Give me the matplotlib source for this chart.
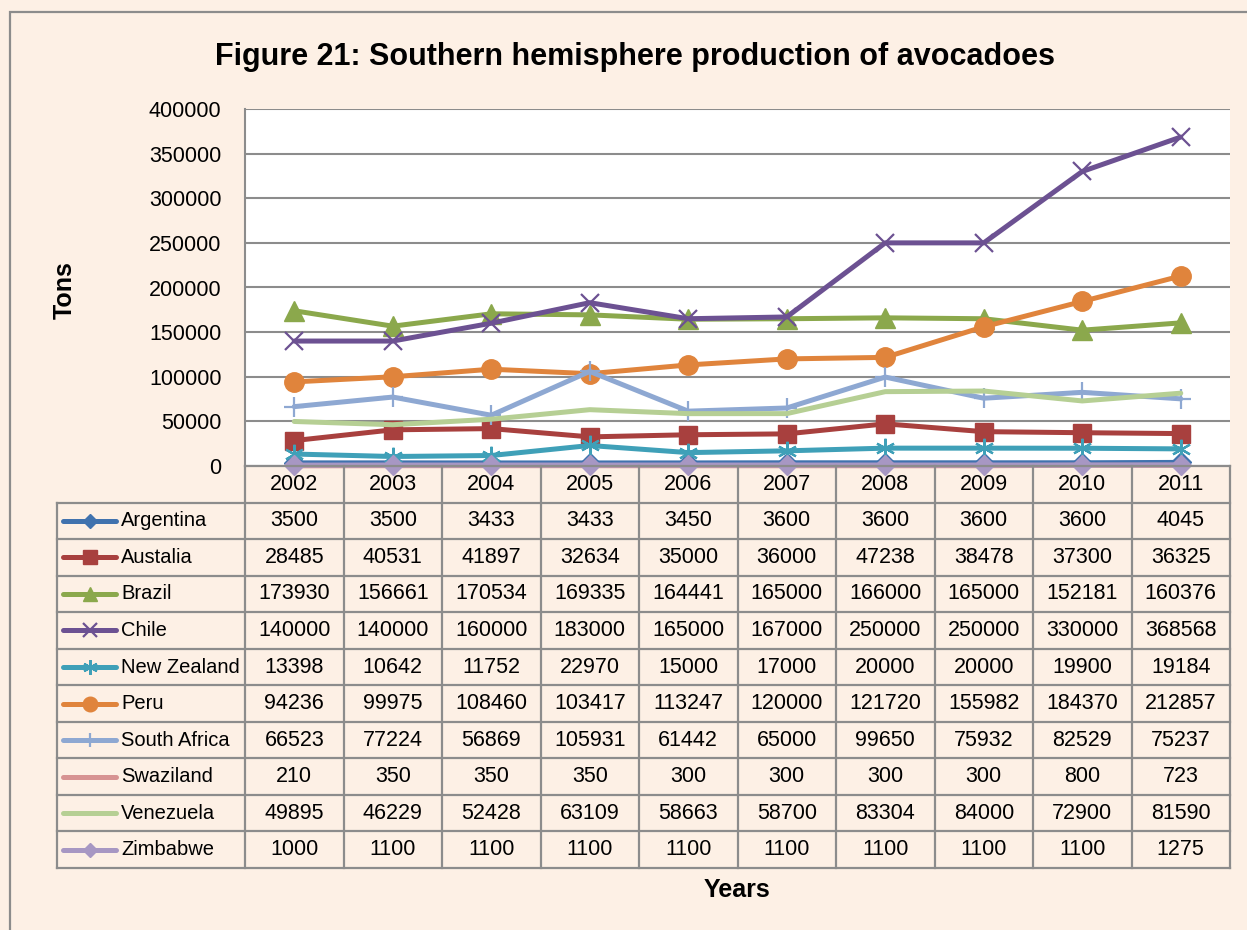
import numpy as np
import matplotlib.pyplot as plt
from matplotlib.lines import Line2D
from matplotlib.patches import Rectangle

years = ['2002', '2003', '2004', '2005', '2006', '2007', '2008', '2009', '2010', '2011']
countries = ['Argentina', 'Austalia', 'Brazil', 'Chile', 'New Zealand', 'Peru',
             'South Africa', 'Swaziland', 'Venezuela', 'Zimbabwe']
argentina = [3500, 3500, 3433, 3433, 3450, 3600, 3600, 3600, 3600, 4045]
australia = [28485, 40531, 41897, 32634, 35000, 36000, 47238, 38478, 37300, 36325]
brazil = [173930, 156661, 170534, 169335, 164441, 165000, 166000, 165000, 152181, 160376]
chile = [140000, 140000, 160000, 183000, 165000, 167000, 250000, 250000, 330000, 368568]
new_zealand = [13398, 10642, 11752, 22970, 15000, 17000, 20000, 20000, 19900, 19184]
peru = [94236, 99975, 108460, 103417, 113247, 120000, 121720, 155982, 184370, 212857]
south_africa = [66523, 77224, 56869, 105931, 61442, 65000, 99650, 75932, 82529, 75237]
swaziland = [210, 350, 350, 350, 300, 300, 300, 300, 800, 723]
venezuela = [49895, 46229, 52428, 63109, 58663, 58700, 83304, 84000, 72900, 81590]
zimbabwe = [1000, 1100, 1100, 1100, 1100, 1100, 1100, 1100, 1100, 1275]

series = [argentina, australia, brazil, chile, new_zealand, peru,
          south_africa, swaziland, venezuela, zimbabwe]

# style per series: colour, marker, size, edge width
styles = [
    ('#4072AE', 'D', 10, 1),
    ('#A8403E', 's', 13, 1),
    ('#8BA84C', '^', 14, 1),
    ('#6C5192', 'x', 13, 1.6),
    ('#3FA0B8', (6, 2, 0), 14, 1.6),
    ('#E0843C', 'o', 14, 1),
    ('#8EA8D2', '+', 14, 1.6),
    ('#D79392', None, 0, 1),
    ('#B6CF94', None, 0, 1),
    ('#A797C3', 'D', 10, 1),
]

plt.rcParams['font.family'] = ['Liberation Sans', 'DejaVu Sans']

W, H = 1247, 930
bg = '#FDF0E5'
grid_c = '#8C8C8C'

fig = plt.figure(figsize=(W / 100, H / 100), dpi=100)
fig.patch.set_facecolor(bg)

# outer frame
fig.patches.append(Rectangle((10 / W, -0.05), 1.1, 1 - 12 / H + 0.05, transform=fig.transFigure,
                             fill=False, edgecolor=grid_c, linewidth=1.6))

def px_rect(x0, y0, x1, y1):
    return [x0 / W, 1 - y1 / H, (x1 - x0) / W, (y1 - y0) / H]

# main plot
ax = fig.add_axes(px_rect(245, 109, 1230, 466))
ax.set_facecolor('white')
x = np.arange(len(years))
for vals, name, (c, m, ms, mew) in zip(series, countries, styles):
    ax.plot(x, vals, color=c, lw=3.6, marker=m, markersize=ms, markeredgewidth=mew,
            markeredgecolor=c, markerfacecolor=c, clip_on=False, solid_capstyle='round',
            solid_joinstyle='round', zorder=3)
ax.set_xlim(-0.5, 9.5)
ax.set_ylim(0, 400000)
ax.set_yticks(np.arange(0, 400001, 50000))
ax.set_yticklabels([str(v) for v in range(0, 400001, 50000)], fontsize=15.5)
ax.tick_params(axis='y', length=0, pad=17)
ax.set_xticks([])
ax.yaxis.grid(True, color=grid_c, lw=1.5)
ax.set_axisbelow(True)
for s in ['top', 'right', 'bottom']:
    ax.spines[s].set_visible(False)
ax.spines['left'].set_color(grid_c)
ax.spines['left'].set_linewidth(1.5)

# data table below the plot
tab = fig.add_axes(px_rect(57, 466, 1230, 868))
lab_w = 188 / 98.5
tab.set_xlim(-0.5 - lab_w, 9.5)
tab.set_ylim(11, 0)
tab.axis('off')
tab.patch.set_alpha(0)

tl = dict(color=grid_c, lw=1.6, clip_on=False)
tab.plot([-0.5, 9.5], [0, 0], **tl)
for r in range(1, 12):
    tab.plot([-0.5 - lab_w, 9.5], [r, r], **tl)
tab.plot([-0.5 - lab_w, -0.5 - lab_w], [1, 11], **tl)
for k in range(11):
    tab.plot([k - 0.5, k - 0.5], [0, 11], **tl)

for k, yr in enumerate(years):
    tab.text(k, 0.5, yr, ha='center', va='center', fontsize=15.5)

for r, (vals, name, (c, m, ms, mew)) in enumerate(zip(series, countries, styles)):
    yy = r + 1.5
    x0 = -0.5 - lab_w + 0.06
    x1 = x0 + 0.54
    tab.add_line(Line2D([x0, x1], [yy, yy], color=c, lw=3.6, solid_capstyle='round'))
    if m is not None:
        tab.add_line(Line2D([(x0 + x1) / 2], [yy], color=c, marker=m,
                            markersize=ms * 0.75, markeredgewidth=mew, markeredgecolor=c,
                            markerfacecolor=c))
    tab.text(x1 + 0.05, yy, name, ha='left', va='center', fontsize=14.5)
    for k, v in enumerate(vals):
        tab.text(k, yy, str(v), ha='center', va='center', fontsize=15.5)

fig.text(635 / W, 1 - 57 / H, 'Figure 21: Southern hemisphere production of avocadoes',
         ha='center', va='center', fontsize=22, fontweight='bold')
fig.text(65 / W, 1 - 290 / H, 'Tons', ha='center', va='center', rotation=90,
         fontsize=18, fontweight='bold')
fig.text(737 / W, 1 - 890 / H, 'Years', ha='center', va='center',
         fontsize=18, fontweight='bold')

fig.savefig('out.png', dpi=100, facecolor=bg)
